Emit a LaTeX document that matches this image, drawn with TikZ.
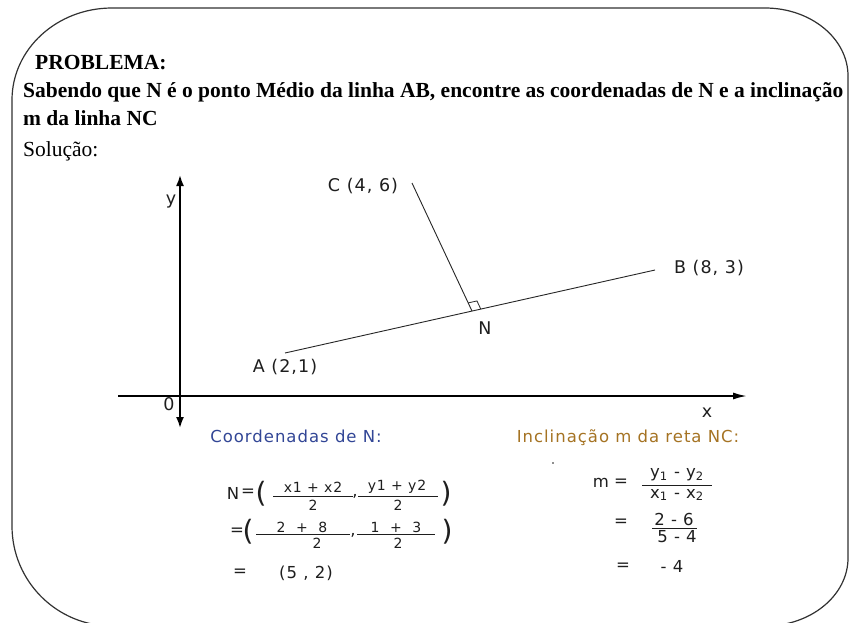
\documentclass[tikz,border=0pt]{standalone}
\usepackage{fontspec}
\setmainfont{Liberation Serif}
\newfontfamily\lab[LetterSpace=6]{DejaVu Sans}
\usetikzlibrary{arrows.meta}
\definecolor{framec}{RGB}{50,50,50}
\definecolor{coordc}{RGB}{50,70,150}
\definecolor{inclc}{RGB}{165,115,35}
\definecolor{ink}{RGB}{30,30,30}
\begin{document}
\begin{tikzpicture}[x=1pt,y=-1pt,
  lbl/.style={inner sep=0pt, text=ink, font=\lab\fontsize{17.5}{19}\selectfont},
  fm/.style={inner sep=0pt, text=ink, font=\lab\fontsize{16.5}{18}\selectfont},
  fs/.style={inner sep=0pt, text=ink, font=\lab\fontsize{14}{16}\selectfont},
  paren/.style={inner sep=0pt, text=ink, font=\lab\fontsize{28}{30}\selectfont},
  ttl/.style={inner sep=0pt, anchor=base west, font=\fontsize{21.5}{24}\selectfont},
  ttlb/.style={ttl, font=\fontsize{21.5}{24}\selectfont\bfseries},
  axis/.style={line width=1.8pt, black},
  seg/.style={line width=0.9pt, black!85},
  fbar/.style={line width=0.9pt, ink}]
\useasboundingbox (0,0) rectangle (850,622);
\fill[white] (0,0) rectangle (850,622);
\begin{scope}
\clip (0,0) rectangle (850,622);
\draw[framec, line width=1.2pt] (12,100) .. controls (12,49.2) and (56.8,8) .. (112,8)
  -- (765,8) .. controls (810.8,8) and (848,38.5) .. (848,76)
  -- (848,558) .. controls (848,595.5) and (810.8,626) .. (765,626)
  -- (112,626) .. controls (56.8,626) and (12,581.2) .. (12,526) -- cycle;
\end{scope}

% title
\node[ttlb] (t1) at (35,69) {PROBLEMA:};
\node[ttlb] (t2) at (23,97) {Sabendo que N é o ponto Médio da linha AB, encontre as coordenadas de N e a inclinação};
\node[ttlb] (t3) at (23,125) {m da linha NC};
\node[ttl] (t4) at (23,156) {Solução:};

% axes
\coordinate (ytop) at (180,175);
\coordinate (ybot) at (180,428);
\coordinate (xl) at (118,396);
\coordinate (xr) at (747,396);
\draw[axis, {Latex[length=11pt,width=8pt]}-{Latex[length=11pt,width=8pt]}] (ybot) -- (ytop);
\draw[axis, -{Latex[length=14pt,width=7pt]}] (xl) -- (xr);
\node[lbl] (ly) at (171,202) {y};
\node[lbl] (l0) at (169,404) {0};
\node[lbl] (lx) at (707,413) {x};

% lines
\coordinate (A) at (285,353);
\coordinate (B) at (655,270);
\coordinate (N) at (472,311.05);
\coordinate (C) at (412,183);
\draw[seg] (A) -- (B);
\draw[seg] (C) -- (N);
\draw[line width=0.8pt, black!85] (N) ++(8.78,-1.97) -- ++(-3.82,-8.15) -- ++(-8.78,1.97);
\node[lbl] (lC) at (363,186) {C (4, 6)};
\node[lbl] (lB) at (709,268) {B (8, 3)};
\node[lbl] (lA) at (285,367) {A (2,1)};
\node[lbl] (lN) at (485,328) {N};

% headings
\node[fm, text=coordc] (hc) at (296,436) {Coordenadas de N:};
\node[fm, text=inclc] (hi) at (628,438) {Inclinação m da reta NC:};
\fill[ink] (553,463) circle (0.8);

% left formula row 1
\node[fm] (r1N) at (233,493) {N};
\node[fm] (r1eq) at (248,493) {=};
\node[paren] (r1l) at (261,494) {(};
\node[fs] (r1n1) at (313,487) {x1 + x2};
\draw[fbar] (273,496) -- (353,496);
\node[fs] (r1d1) at (313,505) {2};
\node[fm] (r1c) at (355,496) {,};
\node[fs] (r1n2) at (397,487) {y1 + y2};
\draw[fbar] (358,496) -- (438,496);
\node[fs] (r1d2) at (398,505) {2};
\node[paren] (r1r) at (446,494) {)};
% row 2
\node[fm] (r2eq) at (237,532) {=};
\node[paren] (r2l) at (248,532) {(};
\node[fs] (r2n1) at (302,527) {2\ \ +\ \ 8};
\draw[fbar] (256,534) -- (350,534);
\node[fs] (r2d1) at (317,543) {2};
\node[fm] (r2c) at (353,535) {,};
\node[fs] (r2n2) at (396,527) {1\ \ +\ \ 3};
\draw[fbar] (357,534) -- (435,534);
\node[fs] (r2d2) at (398,543) {2};
\node[paren] (r2r) at (447,532) {)};
% row 3
\node[fm] (r3eq) at (240,573) {=};
\node[fm] (r3v) at (306,573) {(5 , 2)};

% right formula
\node[fm] (m1m) at (601,483) {m};
\node[fm] (m1eq) at (621,483) {=};
\node[fm] (m1n) at (677,475) {y\textsubscript{1} - y\textsubscript{2}};
\draw[fbar] (642,485) -- (712,485);
\node[fm] (m1d) at (677,495) {x\textsubscript{1} - x\textsubscript{2}};
\node[fm] (m2eq) at (621,523) {=};
\node[fm] (m2n) at (674,519) {2 - 6};
\draw[fbar] (652,528) -- (697,528);
\node[fm] (m2d) at (677,537) {5 - 4};
\node[fm] (m3eq) at (623,567) {=};
\node[fm] (m3v) at (672,566) {- 4};
\end{tikzpicture}
\end{document}
